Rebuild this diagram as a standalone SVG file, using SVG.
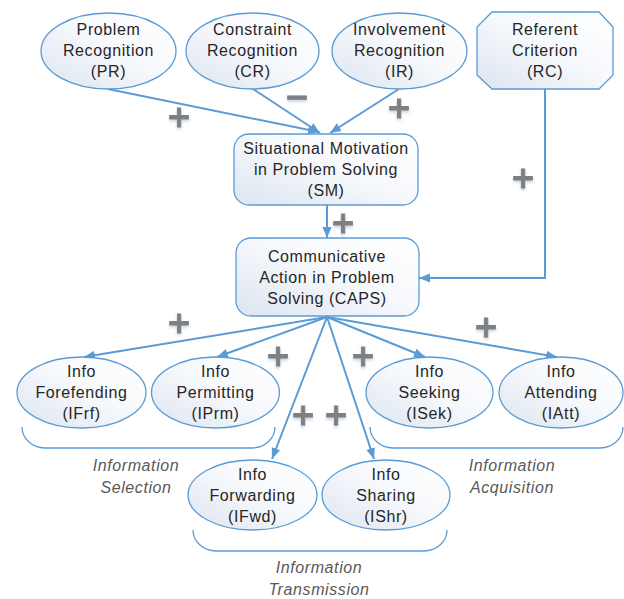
<svg xmlns="http://www.w3.org/2000/svg" width="624" height="599" viewBox="0 0 624 599">
<defs>
<linearGradient id="g" x1="1" y1="0" x2="0" y2="1">
<stop offset="0" stop-color="#ffffff"/>
<stop offset="0.45" stop-color="#f7f9fc"/>
<stop offset="1" stop-color="#dde5f0"/>
</linearGradient>
<marker id="ah" markerUnits="userSpaceOnUse" markerWidth="12" markerHeight="10" refX="11" refY="5" orient="auto">
<path d="M0,0.5 L11,5 L0,9.5 z" fill="#5b9bd5"/>
</marker>
<filter id="sh" x="-50%" y="-50%" width="200%" height="200%">
<feDropShadow dx="0" dy="2" stdDeviation="1.5" flood-color="#a9c2e2" flood-opacity="0.7"/>
</filter>
</defs>
<style>
.shape{fill:url(#g);stroke:#5b9bd5;stroke-width:1.3}
.t{font-family:"Liberation Sans",Arial,sans-serif;font-size:16px;letter-spacing:0.6px;fill:#262626;text-anchor:middle}
.lab{font-family:"Liberation Sans",Arial,sans-serif;font-size:16px;font-style:italic;letter-spacing:0.6px;fill:#595959;text-anchor:middle}
.c{fill:none;stroke:#5b9bd5;stroke-width:2}
.br{fill:none;stroke:#5b9bd5;stroke-width:1.3}
.pm{font-family:"DejaVu Sans",sans-serif;font-weight:bold;font-size:30px;fill:#7f7f7f;stroke:#7f7f7f;stroke-width:0.8;text-anchor:middle;filter:url(#sh)}
</style>

<g id="connectors">
<path class="c" d="M108,89 L319,132" marker-end="url(#ah)"/>
<path class="c" d="M253,89 L320,133" marker-end="url(#ah)"/>
<path class="c" d="M399,89 L330,133" marker-end="url(#ah)"/>
<path class="c" d="M327,205 L327,238" marker-end="url(#ah)"/>
<path class="c" d="M545,89 L545,278 L419,278" marker-end="url(#ah)"/>
<path class="c" d="M327,317 L84,357" marker-end="url(#ah)"/>
<path class="c" d="M327,317 L217,357" marker-end="url(#ah)"/>
<path class="c" d="M327,317 L425,357" marker-end="url(#ah)"/>
<path class="c" d="M327,317 L557,357" marker-end="url(#ah)"/>
<path class="c" d="M327,317 L272,459" marker-end="url(#ah)"/>
<path class="c" d="M327,317 L374,459" marker-end="url(#ah)"/>
</g>

<g id="signs">
<text class="pm" x="179" y="127">+</text>
<text class="pm" x="297" y="107">−</text>
<text class="pm" x="399" y="118">+</text>
<text class="pm" x="523" y="188">+</text>
<text class="pm" x="343" y="233">+</text>
<text class="pm" x="179" y="333">+</text>
<text class="pm" x="278" y="366">+</text>
<text class="pm" x="303" y="425">+</text>
<text class="pm" x="336" y="425">+</text>
<text class="pm" x="363" y="366">+</text>
<text class="pm" x="486" y="337">+</text>
</g>

<g id="PR">
<ellipse class="shape" cx="108.5" cy="51" rx="67.5" ry="38"/>
<text class="t" x="108.5" y="35">Problem</text>
<text class="t" x="108.5" y="56">Recognition</text>
<text class="t" x="108.5" y="77">(PR)</text>
</g>
<g id="CR">
<ellipse class="shape" cx="252.5" cy="51" rx="66.5" ry="38"/>
<text class="t" x="252.5" y="35">Constraint</text>
<text class="t" x="252.5" y="56">Recognition</text>
<text class="t" x="252.5" y="77">(CR)</text>
</g>
<g id="IR">
<ellipse class="shape" cx="399.5" cy="51" rx="67.5" ry="38"/>
<text class="t" x="399.5" y="35">Involvement</text>
<text class="t" x="399.5" y="56">Recognition</text>
<text class="t" x="399.5" y="77">(IR)</text>
</g>
<g id="RC">
<polygon class="shape" points="492,12 599,12 613,27 613,75 599,89 492,89 477,75 477,27"/>
<text class="t" x="545" y="35">Referent</text>
<text class="t" x="545" y="56">Criterion</text>
<text class="t" x="545" y="77">(RC)</text>
</g>
<g id="SM">
<rect class="shape" x="234" y="134" width="184" height="71" rx="15"/>
<text class="t" x="326" y="154">Situational Motivation</text>
<text class="t" x="326" y="175">in Problem Solving</text>
<text class="t" x="326" y="196">(SM)</text>
</g>
<g id="CAPS">
<rect class="shape" x="236" y="238" width="183" height="78" rx="15"/>
<text class="t" x="327" y="262">Communicative</text>
<text class="t" x="327" y="283">Action in Problem</text>
<text class="t" x="327" y="304">Solving (CAPS)</text>
</g>
<g id="IFrf">
<ellipse class="shape" cx="81.5" cy="392.5" rx="64.5" ry="35.5"/>
<text class="t" x="81.5" y="377">Info</text>
<text class="t" x="81.5" y="398">Forefending</text>
<text class="t" x="81.5" y="419">(IFrf)</text>
</g>
<g id="IPrm">
<ellipse class="shape" cx="215.5" cy="392.5" rx="64" ry="35.5"/>
<text class="t" x="215.5" y="377">Info</text>
<text class="t" x="215.5" y="398">Permitting</text>
<text class="t" x="215.5" y="419">(IPrm)</text>
</g>
<g id="ISek">
<ellipse class="shape" cx="429.5" cy="392.5" rx="63.5" ry="35.5"/>
<text class="t" x="429.5" y="377">Info</text>
<text class="t" x="429.5" y="398">Seeking</text>
<text class="t" x="429.5" y="419">(ISek)</text>
</g>
<g id="IAtt">
<ellipse class="shape" cx="561" cy="392.5" rx="62" ry="35.5"/>
<text class="t" x="561" y="377">Info</text>
<text class="t" x="561" y="398">Attending</text>
<text class="t" x="561" y="419">(IAtt)</text>
</g>
<g id="IFwd">
<ellipse class="shape" cx="252.5" cy="495" rx="64.5" ry="35"/>
<text class="t" x="252.5" y="480">Info</text>
<text class="t" x="252.5" y="501">Forwarding</text>
<text class="t" x="252.5" y="522">(IFwd)</text>
</g>
<g id="IShr">
<ellipse class="shape" cx="386" cy="495" rx="64" ry="35"/>
<text class="t" x="386" y="480">Info</text>
<text class="t" x="386" y="501">Sharing</text>
<text class="t" x="386" y="522">(IShr)</text>
</g>

<g id="selection">
<path class="br" d="M22,427 A23,21 0 0 0 45,448 H252 A23,21 0 0 0 275,427"/>
<text class="lab" x="136" y="471">Information</text>
<text class="lab" x="136" y="493">Selection</text>
</g>
<g id="acquisition">
<path class="br" d="M370,427 A23,21 0 0 0 393,448 H600 A23,21 0 0 0 623,427"/>
<text class="lab" x="512" y="471">Information</text>
<text class="lab" x="512" y="493">Acquisition</text>
</g>
<g id="transmission">
<path class="br" d="M193,530 A23,21 0 0 0 216,551 H424 A23,21 0 0 0 447,530"/>
<text class="lab" x="319" y="573">Information</text>
<text class="lab" x="319" y="595">Transmission</text>
</g>
</svg>
